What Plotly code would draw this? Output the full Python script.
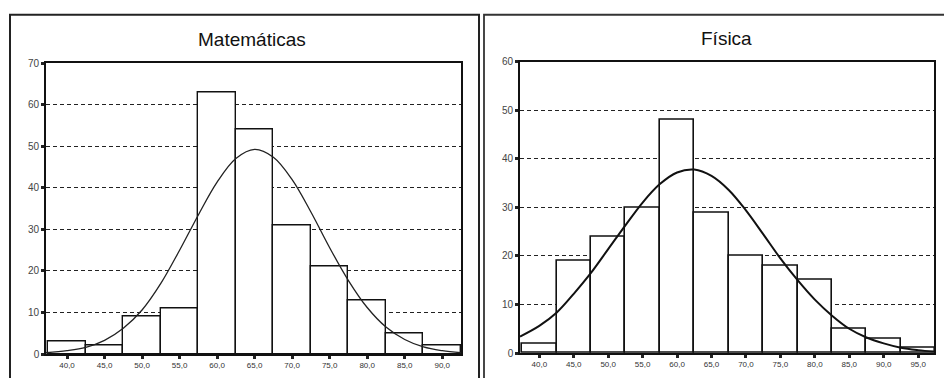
import plotly.graph_objects as go

W, H = 944, 378

# ---- data ----
math_title = "Matemáticas"
math_bins = [40, 45, 50, 55, 60, 65, 70, 75, 80, 85, 90]
math_counts = [3, 2, 9, 11, 63, 54, 31, 21, 13, 5, 2]
math_curve_x = [37.2, 40, 42.5, 45, 47.5, 50, 52.5, 55, 57.5, 60, 62.5, 65,
                67.5, 70, 72.5, 75, 77.5, 80, 82.5, 85, 87.5, 90, 92.5]
math_curve_y = [0.3, 0.8, 1.6, 3.3, 6.2, 10.6, 17.0, 25.0, 33.5, 41.4, 47.1, 49.3,
                47.4, 42.0, 34.2, 25.6, 17.7, 11.2, 6.5, 3.5, 1.7, 0.8, 0.3]
math_xticks = [40, 45, 50, 55, 60, 65, 70, 75, 80, 85, 90]
math_yticks = [0, 10, 20, 30, 40, 50, 60, 70]

fis_title = "Física"
fis_bins = [40, 45, 50, 55, 60, 65, 70, 75, 80, 85, 90, 95]
fis_counts = [2, 19, 24, 30, 48, 29, 20, 18, 15, 5, 3, 1]
fis_curve_x = [37.2, 40, 42.5, 45, 47.5, 50, 52.5, 55, 57.5, 60, 62.5, 65,
               67.5, 70, 72.5, 75, 77.5, 80, 82.5, 85, 87.5, 90, 92.5, 95, 97.3]
fis_curve_y = [3.4, 5.6, 8.3, 12.2, 16.5, 21.4, 26.3, 31.0, 34.8, 37.2, 37.8, 36.5,
               33.6, 29.4, 24.5, 19.5, 15.0, 11.0, 7.7, 5.0, 3.2, 2.0, 1.1, 0.6, 0.3]
fis_xticks = [40, 45, 50, 55, 60, 65, 70, 75, 80, 85, 90, 95]
fis_yticks = [0, 10, 20, 30, 40, 50, 60]


def px_x(x):
    return x / W


def px_y(y):
    return 1 - y / H


def fmt(v):
    return f"{v:.1f}".replace(".", ",")


FONT = "Liberation Sans, Arial, sans-serif"

fig = go.Figure()

fig.add_trace(go.Bar(x=math_bins, y=math_counts, width=5,
                     marker=dict(color="white", line=dict(color="#111", width=1.4)),
                     xaxis="x", yaxis="y", showlegend=False, hoverinfo="skip"))
fig.add_trace(go.Scatter(x=math_curve_x, y=math_curve_y, mode="lines",
                         line=dict(color="#222", width=1.3, shape="spline"),
                         xaxis="x", yaxis="y", showlegend=False, hoverinfo="skip"))

fig.add_trace(go.Bar(x=fis_bins, y=fis_counts, width=5,
                     marker=dict(color="white", line=dict(color="#111", width=1.6)),
                     xaxis="x2", yaxis="y2", showlegend=False, hoverinfo="skip"))
fig.add_trace(go.Scatter(x=fis_curve_x, y=fis_curve_y, mode="lines",
                         line=dict(color="#111", width=2, shape="spline"),
                         xaxis="x2", yaxis="y2", showlegend=False, hoverinfo="skip"))

xcommon = dict(showgrid=False, zeroline=False, showline=True, linecolor="#111",
               linewidth=1.6, mirror=True, ticks="outside", ticklen=3, tickwidth=3,
               tickcolor="#222", tickfont=dict(family=FONT, size=8, color="#333"))
ycommon = dict(showgrid=True, gridcolor="#222", gridwidth=1.3, griddash="4px,3px",
               zeroline=False, showline=True, linecolor="#111", linewidth=1.6,
               mirror=True, ticks="outside", ticklen=3, tickwidth=3, tickcolor="#222",
               tickfont=dict(family=FONT, size=10, color="#444"))

fig.update_layout(
    width=W, height=H,
    margin=dict(l=0, r=0, t=0, b=0),
    paper_bgcolor="white", plot_bgcolor="white",
    bargap=0,
    xaxis=dict(domain=[px_x(46), px_x(461)], range=[37.2, 92.5], anchor="y",
               tickvals=math_xticks, ticktext=[fmt(v) for v in math_xticks], **xcommon),
    yaxis=dict(domain=[px_y(358.5), px_y(60)], range=[0, 70], anchor="x",
               tickvals=math_yticks, ticktext=[str(v) for v in math_yticks], **ycommon),
    xaxis2=dict(domain=[px_x(520), px_x(934)], range=[37.2, 97.3], anchor="y2",
                tickvals=fis_xticks, ticktext=[fmt(v) for v in fis_xticks], **xcommon),
    yaxis2=dict(domain=[px_y(357.5), px_y(58.3)], range=[0, 60], anchor="x2",
                tickvals=fis_yticks, ticktext=[str(v) for v in fis_yticks], **ycommon),
    annotations=[
        dict(text=math_title, x=px_x(252), y=px_y(35), xref="paper", yref="paper",
             showarrow=False, font=dict(family=FONT, size=19, color="#111"),
             xanchor="center", yanchor="middle"),
        dict(text=fis_title, x=px_x(726), y=px_y(34), xref="paper", yref="paper",
             showarrow=False, font=dict(family=FONT, size=19, color="#111"),
             xanchor="center", yanchor="middle"),
    ],
    shapes=[
        dict(type="rect", xref="paper", yref="paper",
             x0=px_x(10), x1=px_x(479), y0=px_y(390), y1=px_y(10),
             line=dict(color="#222", width=2)),
        dict(type="rect", xref="paper", yref="paper",
             x0=px_x(484), x1=px_x(960), y0=px_y(390), y1=px_y(10),
             line=dict(color="#333", width=1.8)),
    ],
)

# Remove the browser's default page margin so the figure sits at the window origin.
fig.write_html(
    "out.html",
    config={"displayModeBar": False},
    post_script="document.body.style.margin='0';"
                "document.documentElement.style.overflow='hidden';",
)
